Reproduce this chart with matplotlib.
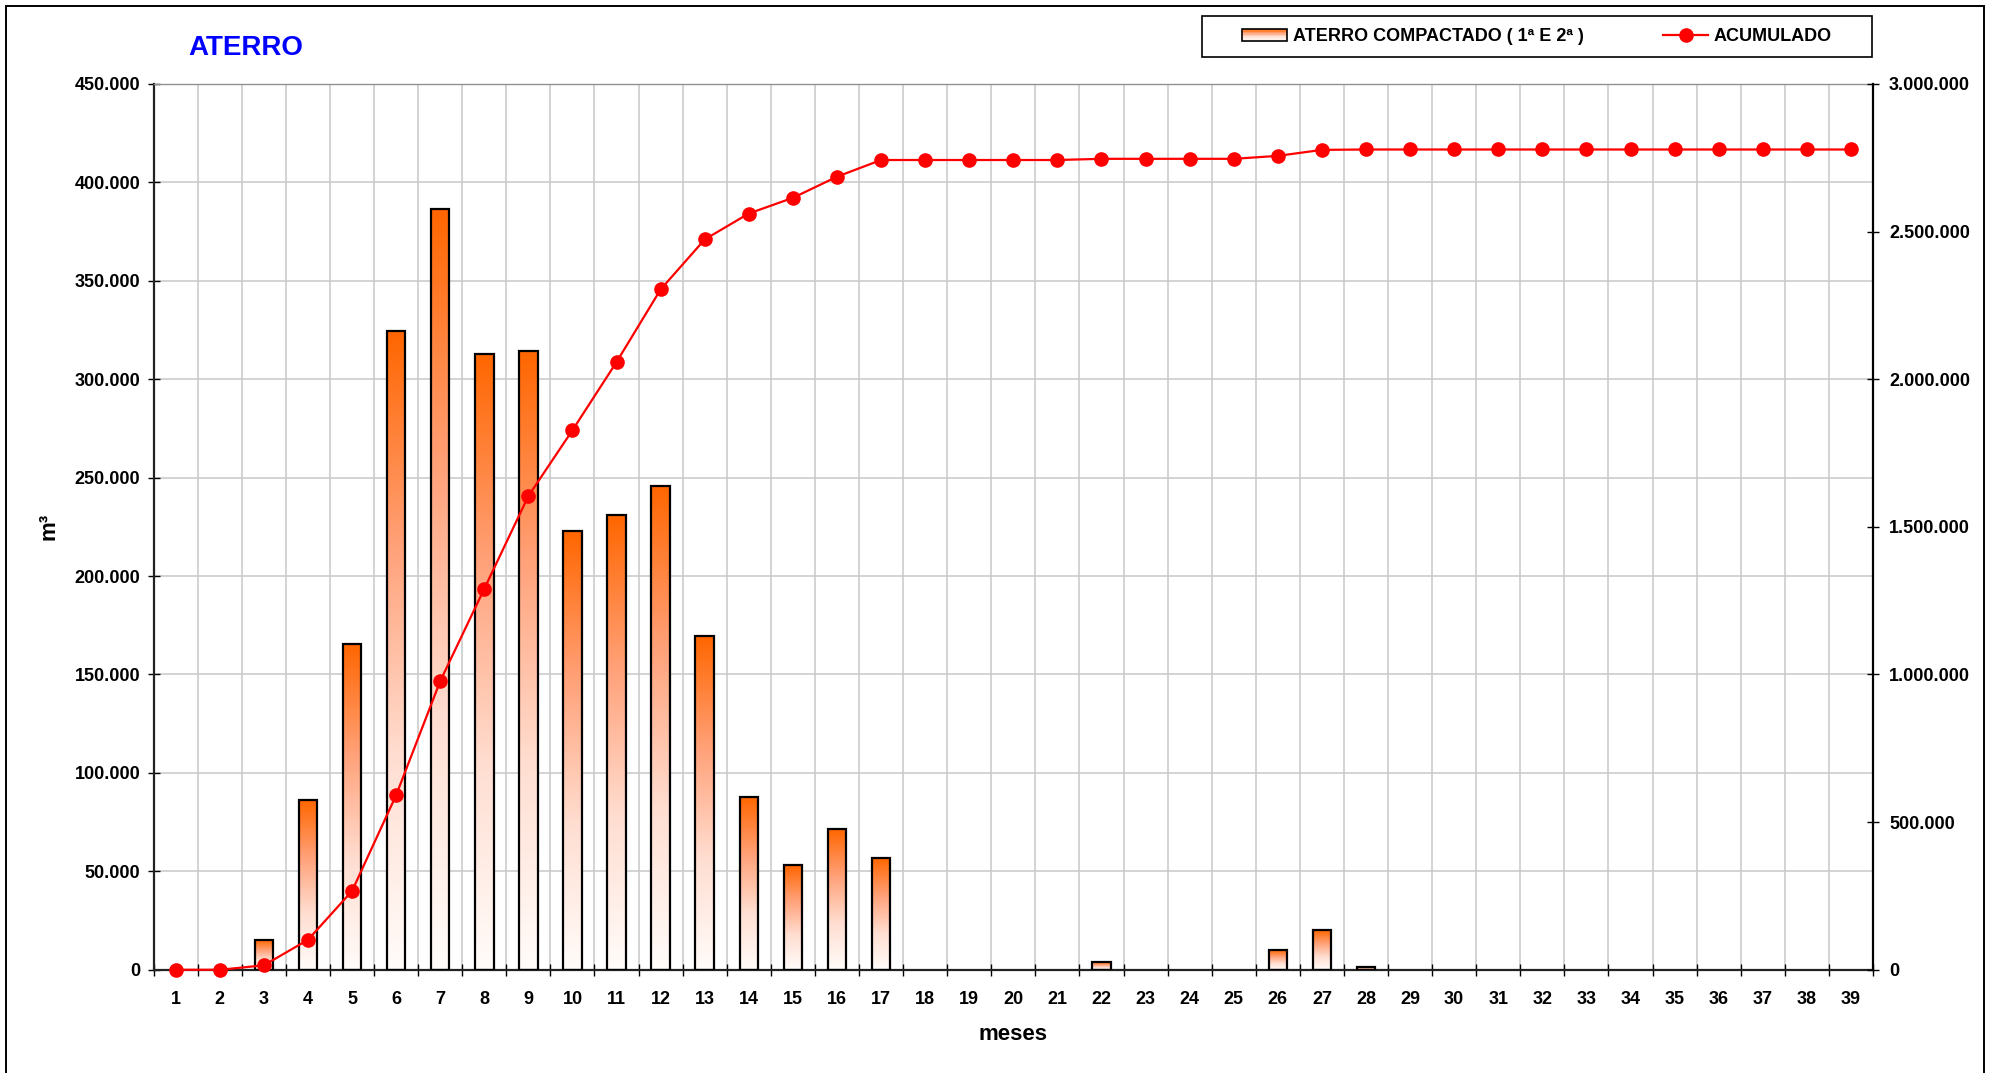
import numpy as np
import matplotlib
matplotlib.use("Agg")
import matplotlib.pyplot as plt
from matplotlib.colors import LinearSegmentedColormap
from matplotlib.patches import Rectangle
from matplotlib.lines import Line2D
from matplotlib.legend_handler import HandlerBase
from matplotlib.ticker import FuncFormatter, MultipleLocator

plt.rcParams['font.family'] = ['Liberation Sans', 'DejaVu Sans']
plt.rcParams['font.weight'] = 'bold'
plt.rcParams['axes.labelweight'] = 'bold'

# volumes mensais de aterro compactado (m3)
meses = np.arange(1, 40)
aterro = np.array([
    0, 0, 15100, 86200, 165300, 324400, 386300, 312900, 314100, 222900,
    230800, 245900, 169400, 87800, 53100, 71500, 56600, 0, 0, 0,
    0, 4000, 0, 0, 0, 10000, 20300, 1300, 0, 0,
    0, 0, 0, 0, 0, 0, 0, 0, 0,
])
acumulado = np.cumsum(aterro)

titulo = "ATERRO"
rotulo_barras = "ATERRO COMPACTADO ( 1ª E 2ª )"
rotulo_linha = "ACUMULADO"

# degrade laranja -> branco (base -> topo)
cmap = LinearSegmentedColormap.from_list(
    "aterro", [(1.0, 0.988, 0.98), (1.0, 0.87, 0.82), (1.0, 0.63, 0.47), (1.0, 0.40, 0.0)])


def fmt_milhar(v, pos=None):
    return f"{int(round(v)):,}".replace(",", ".")


class GradientHandler(HandlerBase):
    def create_artists(self, legend, orig_handle, xdescent, ydescent,
                       width, height, fontsize, trans):
        arts = []
        n = 8
        for i in range(n):
            y = -ydescent + height * i / n
            arts.append(Rectangle((-xdescent, y), width, height / n,
                                  facecolor=cmap(i / (n - 1)), edgecolor='none',
                                  transform=trans))
        arts.append(Rectangle((-xdescent, -ydescent), width, height,
                              facecolor='none', edgecolor='black', lw=1.2,
                              transform=trans))
        return arts


fig = plt.figure(figsize=(19.9, 10.73), dpi=100)
ax = fig.add_axes([0.0772, 0.0962, 0.8640, 0.8256])

# barras com preenchimento em degrade
largura = 0.42
barras = ax.bar(meses, aterro, width=largura, fill=False, edgecolor='black',
                linewidth=1.6, zorder=3)
grad = np.linspace(0, 1, 256).reshape(-1, 1)
for b, v in zip(barras, aterro):
    if v <= 0:
        b.set_visible(False)
        continue
    x0 = b.get_x()
    ax.imshow(grad, cmap=cmap, origin='lower', aspect='auto', interpolation='bilinear',
              extent=(x0, x0 + largura, 0, v), zorder=2)

ax.set_xlim(0.5, 39.5)
ax.set_ylim(0, 450000)
ax.yaxis.set_major_locator(MultipleLocator(50000))
ax.yaxis.set_major_formatter(FuncFormatter(fmt_milhar))

ax.set_xticks(meses)
ax.set_xticks(np.arange(0.5, 40, 1), minor=True)
ax.tick_params(axis='x', which='major', length=0, labelsize=13, pad=15)
ax.tick_params(axis='x', which='minor', direction='inout', length=9, width=1, color='black')
ax.tick_params(axis='y', direction='inout', length=9, width=1, labelsize=13, pad=5)

ax.grid(True, axis='y', which='major', color='#c8c8c8', lw=1.1)
ax.grid(True, axis='x', which='minor', color='#c8c8c8', lw=1.1)
ax.set_axisbelow(True)

ax.spines['top'].set_color('#909090')
ax.spines['top'].set_linewidth(1.0)
for s in ('left', 'bottom'):
    ax.spines[s].set_color('#222222')
    ax.spines[s].set_linewidth(1.6)
ax.spines['right'].set_visible(False)

ax.set_ylabel("m³", fontsize=16)
ax.yaxis.set_label_coords(-0.055, 0.5)
ax.set_xlabel("meses", fontsize=16)
ax.xaxis.set_label_coords(0.5, -0.061)

# eixo secundario: acumulado
ax2 = ax.twinx()
linha, = ax2.plot(meses, acumulado, color='#ff0000', lw=1.6, marker='o', ms=9.5,
                  clip_on=False, zorder=5)
ax2.set_ylim(0, 3000000)
ax2.yaxis.set_major_locator(MultipleLocator(500000))
ax2.yaxis.set_major_formatter(FuncFormatter(fmt_milhar))
ax2.tick_params(axis='y', direction='inout', length=9, width=1, labelsize=13, pad=7)
for s in ('left', 'bottom', 'top'):
    ax2.spines[s].set_visible(False)
ax2.spines['right'].set_color('black')
ax2.spines['right'].set_linewidth(1.6)

fig.text(188 / 1990, 1 - 48 / 1073, titulo, color='#0000ff', fontsize=20,
         fontweight='bold', ha='left', va='center')

proxy = Rectangle((0, 0), 1, 1)
leg_line = Line2D([], [], color='#ff0000', lw=1.6, marker='o', ms=9.5)
fig.legend(handles=[proxy, leg_line], labels=[rotulo_barras, rotulo_linha],
           handler_map={proxy: GradientHandler()}, loc='center',
           bbox_to_anchor=(0.7724, 0.9658), ncol=2, frameon=False,
           handlelength=2.5, handletextpad=0.3, columnspacing=4.4,
           fontsize=13)
fig.patches.append(Rectangle((1202 / 1990, 1 - 57 / 1073), 670 / 1990, 40.5 / 1073,
                             transform=fig.transFigure, fill=False,
                             edgecolor='black', lw=1.2))

# moldura externa do grafico
fig.patches.append(Rectangle((6 / 1990, -0.05), 1978 / 1990, 1 - 6 / 1073 + 0.05,
                             transform=fig.transFigure, fill=False,
                             edgecolor='black', lw=1.4))

fig.savefig("out.png", dpi=100)
